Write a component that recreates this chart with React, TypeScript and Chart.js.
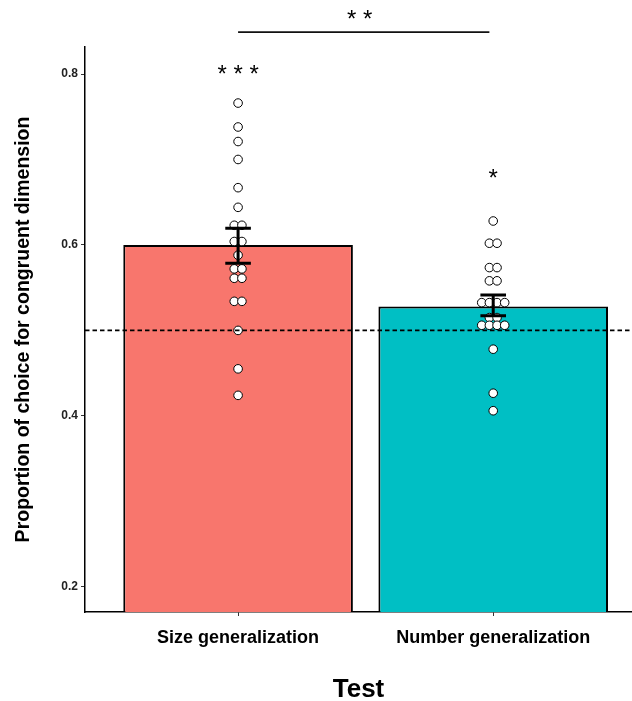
import React, { useEffect, useRef } from "react";
import Chart from "chart.js/auto";

// ---- data ----
const categories = ["Size generalization", "Number generalization"];
const catPositions = [1, 2];
const barMeans = [0.6, 0.528];
const errLower = [0.5785, 0.517];
const errUpper = [0.6195, 0.5415];
const sizeValues = [
  0.766, 0.738, 0.721, 0.7, 0.667, 0.644, 0.623, 0.623, 0.604, 0.604, 0.588,
  0.572, 0.572, 0.561, 0.561, 0.534, 0.534, 0.5, 0.455, 0.424,
];
const numberValues = [
  0.628, 0.602, 0.602, 0.5735, 0.5735, 0.558, 0.558, 0.5325, 0.5325, 0.5325,
  0.5325, 0.515, 0.515, 0.506, 0.506, 0.506, 0.506, 0.478, 0.4265, 0.406,
];
const yTicks = [0.2, 0.4, 0.6, 0.8];
const referenceLine = 0.5;
const barSigLabels = ["* * *", "*"];
const barSigY = [0.8035, 0.682];
const pairSigLabel = "* *";
const pairSigY = 0.868;
const bracketY = 0.849;
const bracketFrom = 1;
const bracketTo = 1.985;
const pairSigX = 1.477;

const barColors = ["#F8766D", "#00BFC4"];
const FONT = "'Liberation Sans', Arial, Helvetica, sans-serif";
const DOT_STEP = 0.03;

function dotLayout(values: number[], center: number) {
  const counts = new Map<number, number>();
  values.forEach((v) => counts.set(v, (counts.get(v) || 0) + 1));
  const seen = new Map<number, number>();
  return values.map((v) => {
    const n = counts.get(v) || 1;
    const i = seen.get(v) || 0;
    seen.set(v, i + 1);
    return { x: center + (i - (n - 1) / 2) * DOT_STEP, y: v };
  });
}

const annotationPlugin = {
  id: "annotations",
  afterDatasetsDraw(chart: any) {
    const { ctx, chartArea, scales } = chart;
    const x = scales.x;
    const y = scales.y;
    ctx.save();
    // reference dashed line
    ctx.beginPath();
    ctx.setLineDash([4.5, 3]);
    ctx.lineWidth = 1.8;
    ctx.strokeStyle = "#000";
    const ry = y.getPixelForValue(referenceLine);
    ctx.moveTo(chartArea.left, ry);
    ctx.lineTo(chartArea.right, ry);
    ctx.stroke();
    ctx.setLineDash([]);
    // error bars
    ctx.lineWidth = 3;
    ctx.strokeStyle = "#000";
    catPositions.forEach((c, i) => {
      const px = x.getPixelForValue(c);
      const top = y.getPixelForValue(errUpper[i]);
      const bot = y.getPixelForValue(errLower[i]);
      const hw = 12.8;
      ctx.beginPath();
      ctx.moveTo(px, top);
      ctx.lineTo(px, bot);
      ctx.moveTo(px - hw, top);
      ctx.lineTo(px + hw, top);
      ctx.moveTo(px - hw, bot);
      ctx.lineTo(px + hw, bot);
      ctx.stroke();
    });
    // significance labels
    ctx.fillStyle = "#000";
    ctx.font = `24px ${FONT}`;
    ctx.textAlign = "center";
    ctx.textBaseline = "alphabetic";
    const glyphOffset = 24 * 0.47;
    catPositions.forEach((c, i) => {
      ctx.fillText(
        barSigLabels[i],
        x.getPixelForValue(c),
        y.getPixelForValue(barSigY[i]) + glyphOffset
      );
    });
    ctx.fillText(
      pairSigLabel,
      x.getPixelForValue(pairSigX),
      y.getPixelForValue(pairSigY) + glyphOffset
    );
    // bracket
    ctx.beginPath();
    ctx.lineWidth = 1.6;
    ctx.strokeStyle = "#111";
    const by = y.getPixelForValue(bracketY);
    ctx.moveTo(x.getPixelForValue(bracketFrom), by);
    ctx.lineTo(x.getPixelForValue(bracketTo), by);
    ctx.stroke();
    ctx.restore();
  },
};

export default function App() {
  const ref = useRef<HTMLCanvasElement | null>(null);
  useEffect(() => {
    if (!ref.current) return;
    Chart.defaults.font.family = FONT;
    const chart = new Chart(ref.current, {
      type: "scatter",
      data: {
        datasets: [
          {
            type: "scatter",
            data: dotLayout(sizeValues, catPositions[0]),
            pointRadius: 4.3,
            pointBackgroundColor: "#fff",
            pointBorderColor: "#000",
            pointBorderWidth: 1,
            order: 1,
          } as any,
          {
            type: "scatter",
            data: dotLayout(numberValues, catPositions[1]),
            pointRadius: 4.3,
            pointBackgroundColor: "#fff",
            pointBorderColor: "#000",
            pointBorderWidth: 1,
            order: 1,
          } as any,
          {
            type: "bar",
            data: catPositions.map((c, i) => ({ x: c, y: barMeans[i] })),
            backgroundColor: barColors,
            borderColor: "#000",
            borderWidth: 2,
            barPercentage: 0.9,
            categoryPercentage: 1,
            order: 2,
          } as any,
        ],
      },
      options: {
        animation: false,
        responsive: false,
        maintainAspectRatio: false,
        devicePixelRatio: 1,
        layout: {
          autoPadding: false,
          padding: { top: 47, right: 0, bottom: 0, left: 0 },
        },
        plugins: { legend: { display: false }, tooltip: { enabled: false } },
        scales: {
          x: {
            type: "linear",
            min: 0.4,
            max: 2.544,
            offset: false,
            afterBuildTicks: (s: any) => {
              s.ticks = catPositions.map((v) => ({ value: v }));
            },
            afterFit: (s: any) => {
              s.height = 89;
            },
            ticks: {
              callback: (_v: any, i: number) => categories[i],
              font: { size: 18, weight: "bold" },
              color: "#000",
              padding: 11,
              maxRotation: 0,
              autoSkip: false,
            },
            grid: {
              offset: false,
              drawOnChartArea: false,
              drawTicks: true,
              tickLength: 4,
              color: "#333",
              lineWidth: 1,
            },
            border: { display: true, color: "#000", width: 1.5 },
            title: {
              display: true,
              text: "Test",
              font: { size: 26, weight: "bold" },
              color: "#000",
              padding: { top: 0, bottom: -4 },
            },
          },
          y: {
            type: "linear",
            min: 0.1705,
            max: 0.8316,
            afterBuildTicks: (s: any) => {
              s.ticks = yTicks.map((v) => ({ value: v }));
            },
            afterFit: (s: any) => {
              s.width = 85;
            },
            ticks: {
              callback: (v: any) => Number(v).toFixed(1),
              font: { size: 12, weight: "bold" },
              color: "#222",
              padding: 3,
            },
            grid: {
              offset: false,
              drawOnChartArea: false,
              drawTicks: true,
              tickLength: 4,
              color: "#333",
              lineWidth: 1,
            },
            border: { display: true, color: "#000", width: 1.5 },
            title: {
              display: true,
              text: "Proportion of choice for congruent dimension",
              font: { size: 19.5, weight: "bold" },
              color: "#000",
              padding: { top: 12, bottom: 0 },
            },
          },
        },
      },
      plugins: [annotationPlugin],
    } as any);
    return () => chart.destroy();
  }, []);
  return (
    <div
      style={{
        position: "fixed",
        left: 0,
        top: 0,
        width: 632,
        height: 701,
        background: "#fff",
      }}
    >
      <canvas
        ref={ref}
        width={632}
        height={701}
        style={{ display: "block", width: 632, height: 701 }}
      />
    </div>
  );
}
